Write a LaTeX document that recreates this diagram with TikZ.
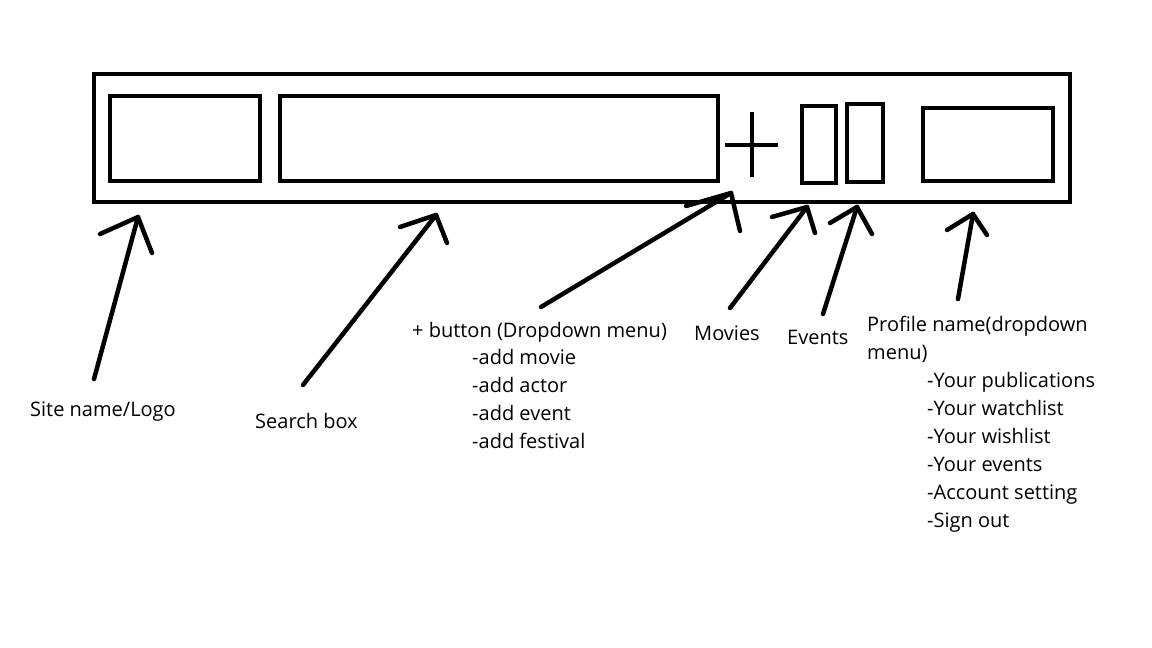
\documentclass[tikz,border=0pt]{standalone}
\usepackage{fontspec}
\setmainfont{Open Sans}
\begin{document}
\begin{tikzpicture}[x=1pt,y=-1pt,
  stroke/.style={line width=4.5pt,line cap=round,line join=round},
  boxline/.style={line width=4.5pt},
  lbl/.style={anchor=base west,inner sep=0pt,font=\fontsize{20}{24}\selectfont}]
\useasboundingbox[fill=white] (0,0) rectangle (1152,648);
% bar and boxes
\draw[boxline] (94,74) rectangle (1070,202);
\node[boxline,draw,minimum width=150pt,minimum height=85pt,inner sep=0pt] (logo) at (185,138.5) {};
\node[boxline,draw,minimum width=438pt,minimum height=85pt,inner sep=0pt] (search) at (499,138.5) {};
\node[boxline,draw,minimum width=34pt,minimum height=77pt,inner sep=0pt] (movies) at (819,144.5) {};
\node[boxline,draw,minimum width=36pt,minimum height=78pt,inner sep=0pt] (events) at (865,143) {};
\node[boxline,draw,minimum width=130pt,minimum height=73pt,inner sep=0pt] (profile) at (988,144.5) {};
\coordinate (plusL) at (725,145); \coordinate (plusR) at (778,145);
\coordinate (plusT) at (752,112); \coordinate (plusB) at (752,177);
\draw[line width=3.5pt] (plusL) -- (plusR) (plusT) -- (plusB);
% labels
\node[lbl] (tsite) at (30,416) {Site name/Logo};
\node[lbl] (tsearch) at (255,428) {Search box};
\node[lbl] (tplus) at (412,337) {+ button (Dropdown menu)};
\node[lbl] (p1) at (472,364) {-add movie};
\node[lbl] (p2) at (472,392) {-add actor};
\node[lbl] (p3) at (472,420) {-add event};
\node[lbl] (p4) at (472,448) {-add festival};
\node[lbl] (tmovies) at (694,340) {Movies};
\node[lbl] (tevents) at (787,344) {Events};
\node[lbl] (tprof) at (867,331) {Profile name(dropdown};
\node[lbl] (tprof2) at (867,359) {menu)};
\node[lbl] (q1) at (927,387) {-Your publications};
\node[lbl] (q2) at (927,415) {-Your watchlist};
\node[lbl] (q3) at (927,443) {-Your wishlist};
\node[lbl] (q4) at (927,471) {-Your events};
\node[lbl] (q5) at (927,499) {-Account setting};
\node[lbl] (q6) at (927,527) {-Sign out};
% arrows: tail, tip, head ends
\coordinate (a1s) at (94,379);  \coordinate (a1t) at (138,217); \coordinate (a1l) at (100,234); \coordinate (a1r) at (152,253);
\coordinate (a2s) at (303,385); \coordinate (a2t) at (436,215); \coordinate (a2l) at (400,227); \coordinate (a2r) at (447,243);
\coordinate (a3s) at (541,307); \coordinate (a3t) at (731,193); \coordinate (a3l) at (686,206); \coordinate (a3r) at (740,231);
\coordinate (a4s) at (730,308); \coordinate (a4t) at (807,207); \coordinate (a4l) at (772,217); \coordinate (a4r) at (815,233);
\coordinate (a5s) at (823,314); \coordinate (a5t) at (857,207); \coordinate (a5l) at (830,223); \coordinate (a5r) at (872,234);
\coordinate (a6s) at (958,299); \coordinate (a6t) at (973,214); \coordinate (a6l) at (947,230); \coordinate (a6r) at (987,235);
\foreach \i in {1,...,6}{
  \draw[stroke] (a\i s) -- (a\i t);
  \draw[stroke] (a\i l) -- (a\i t) -- (a\i r);
}
\end{tikzpicture}
\end{document}
